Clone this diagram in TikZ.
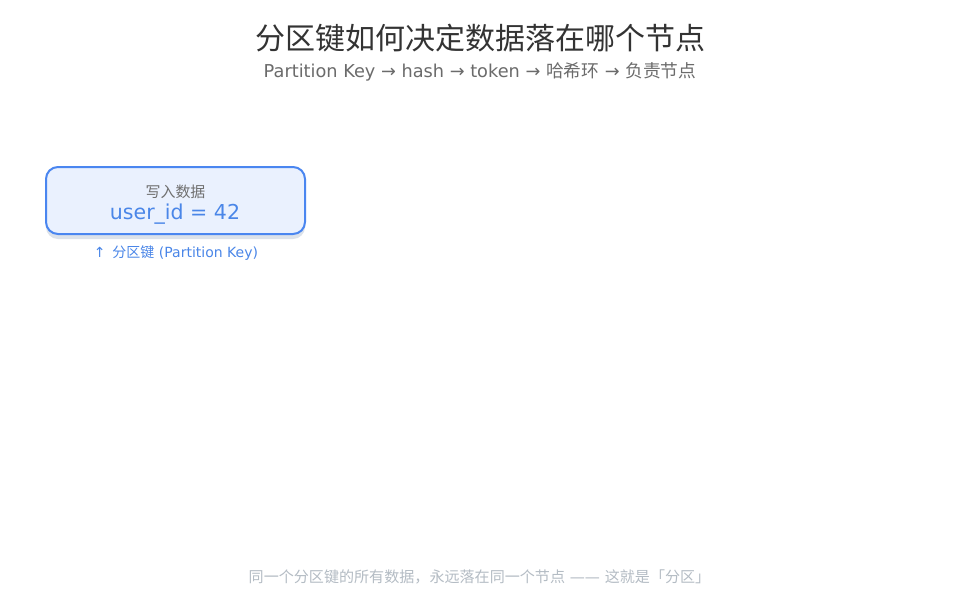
\documentclass[tikz,border=0pt]{standalone}
\usepackage{fontspec}
\setmainfont{DejaVu Sans}
\newfontfamily\cjk{Noto Sans CJK SC}
\definecolor{titlec}{HTML}{333333}
\definecolor{subc}{HTML}{6B6B6B}
\definecolor{boxborder}{HTML}{4A86F0}
\definecolor{boxfill}{HTML}{EAF1FE}
\definecolor{shadowc}{HTML}{DCE2EA}
\definecolor{bluetext}{HTML}{4A86E8}
\definecolor{graytext}{HTML}{6F6F6F}
\definecolor{footc}{HTML}{B4BCC4}
\begin{document}
\begin{tikzpicture}[x=0.75pt,y=-0.75pt,
  txt/.style={inner sep=0pt,anchor=center},
  databox/.style={draw=boxborder,fill=boxfill,line width=1.5pt,rounded corners=9pt,minimum width=194.25pt,minimum height=50.25pt,inner sep=0pt}]
\useasboundingbox (0,0) rectangle (960,600);
\fill[white] (0,0) rectangle (960,600);
\node[txt,text=titlec,font=\fontsize{22.5pt}{26pt}\selectfont\cjk] (title) at (480,38) {分区键如何决定数据落在哪个节点};
\node[txt,text=subc,font=\fontsize{13.3pt}{15pt}\selectfont] (sub) at (480,72) {Partition Key → hash → token → {\cjk 哈希环} → {\cjk 负责节点}};
\fill[shadowc,rounded corners=9pt] (46,172) rectangle (305,239);
\node[databox] (box) at (175.5,200.5) {};
\node[txt,text=graytext,font=\fontsize{11.2pt}{12pt}\selectfont\cjk] (lbl) at (175.5,192) {写入数据};
\node[txt,text=bluetext,font=\fontsize{15.4pt}{18pt}\selectfont] (val) at (175,214) {user\_id = 42};
\node[txt,text=bluetext,font=\fontsize{10.5pt}{12pt}\selectfont] (pk) at (176,253) {↑\ \,{\cjk 分区键} (Partition Key)};
\node[txt,text=footc,font=\fontsize{11.3pt}{12pt}\selectfont] (foot) at (479.5,577) {{\cjk 同一个分区键的所有数据，永远落在同一个节点} —— {\cjk 这就是「分区」}};
\end{tikzpicture}
\end{document}
